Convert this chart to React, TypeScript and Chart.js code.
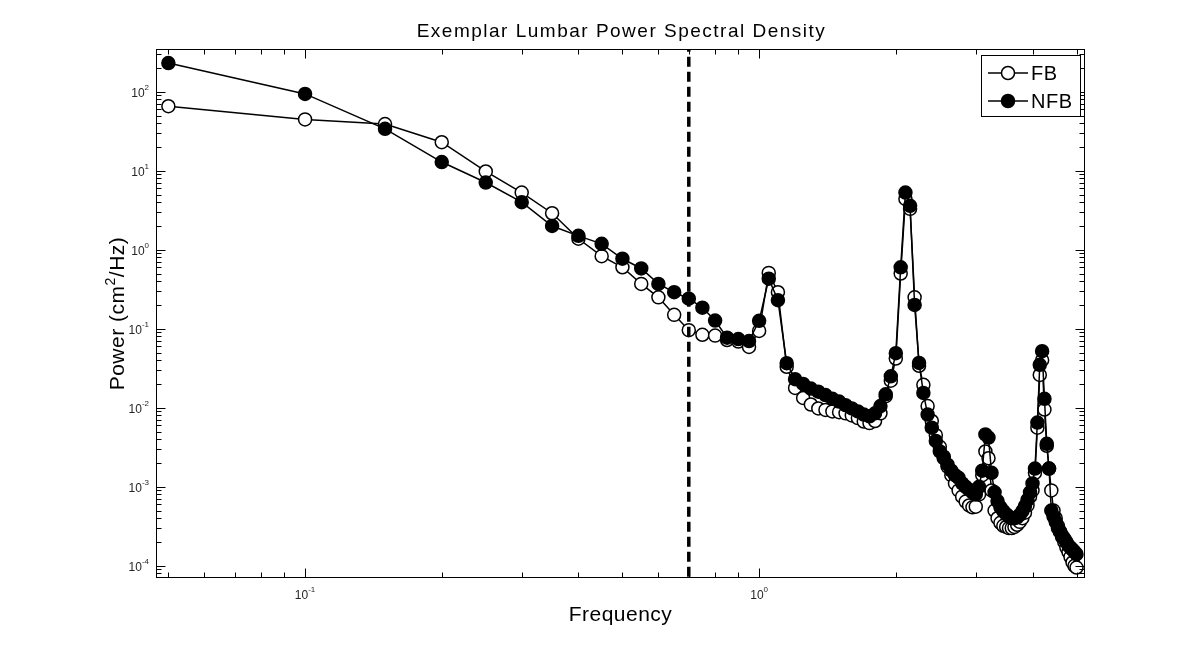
import { useEffect, useRef } from "react";
import { Chart, registerables } from "chart.js";

Chart.register(...registerables);

// ---------------- data ----------------
const FREQUENCY = [
  0.05, 0.1, 0.15, 0.2, 0.25, 0.3, 0.35, 0.4, 0.45, 0.5,
  0.55, 0.6, 0.65, 0.7, 0.75, 0.8, 0.85, 0.9, 0.95, 1.0,
  1.05, 1.1, 1.15, 1.2, 1.25, 1.3, 1.35, 1.4, 1.45, 1.5,
  1.55, 1.6, 1.65, 1.7, 1.75, 1.8, 1.85, 1.9, 1.95, 2.0,
  2.05, 2.1, 2.15, 2.2, 2.25, 2.3, 2.35, 2.4, 2.45, 2.5,
  2.55, 2.6, 2.65, 2.7, 2.75, 2.8, 2.85, 2.9, 2.95, 3.0,
  3.05, 3.1, 3.15, 3.2, 3.25, 3.3, 3.35, 3.4, 3.45, 3.5,
  3.55, 3.6, 3.65, 3.7, 3.75, 3.8, 3.85, 3.9, 3.95, 4.0,
  4.05, 4.1, 4.15, 4.2, 4.25, 4.3, 4.35, 4.4, 4.45, 4.5,
  4.55, 4.6, 4.65, 4.7, 4.75, 4.8, 4.85, 4.9, 4.95, 5.0,
];

const FB_POWER = [
  65.7, 44.7, 39, 23, 9.8, 5.3, 2.9, 1.38, 0.83, 0.6,
  0.37, 0.25, 0.15, 0.096, 0.084, 0.082, 0.072, 0.069, 0.059, 0.094,
  0.51, 0.29, 0.033, 0.0178, 0.0133, 0.011, 0.0098, 0.0094, 0.009, 0.0088,
  0.0085, 0.008, 0.0074, 0.0067, 0.0064, 0.0068, 0.0085, 0.014, 0.022, 0.042,
  0.5, 4.4, 3.3, 0.25, 0.034, 0.0195, 0.0105, 0.0068, 0.0045, 0.0032,
  0.0024, 0.0018, 0.0014, 0.0011, 0.0009, 0.00075, 0.00065, 0.00058, 0.00055, 0.00056,
  0.0008, 0.0014, 0.0028, 0.0023, 0.0009, 0.0005, 0.0004, 0.00035, 0.00032, 0.00031,
  0.0003, 0.0003, 0.00031, 0.00033, 0.00036, 0.0004, 0.00047, 0.00058, 0.00075, 0.0009,
  0.0015, 0.0056, 0.026, 0.04, 0.0095, 0.0033, 0.0017, 0.0009, 0.0005, 0.0004,
  0.00032, 0.00027, 0.00023, 0.0002, 0.00017, 0.00015, 0.00013, 0.00011, 0.0001, 0.000095,
];

const NFB_POWER = [
  231, 94, 34, 12.9, 7.1, 4.0, 2.0, 1.5, 1.19, 0.77,
  0.58, 0.37, 0.29, 0.24, 0.185, 0.127, 0.077, 0.074, 0.07, 0.126,
  0.43, 0.23, 0.0367, 0.023, 0.02, 0.0175, 0.016, 0.0145, 0.013, 0.012,
  0.0108, 0.0098, 0.009, 0.0082, 0.0078, 0.0085, 0.0105, 0.0148, 0.025, 0.049,
  0.6, 5.3, 3.6, 0.2, 0.037, 0.0154, 0.0082, 0.0056, 0.0038, 0.0028,
  0.0023, 0.0019, 0.0016, 0.0014, 0.0013, 0.0011, 0.001, 0.00092, 0.00085, 0.0008,
  0.001, 0.0016, 0.0046, 0.0042, 0.0015, 0.00085, 0.00066, 0.00055, 0.00049, 0.00045,
  0.00042, 0.0004, 0.0004, 0.00041, 0.00044, 0.00049, 0.00057, 0.00068, 0.00085, 0.0011,
  0.0017, 0.0065, 0.035, 0.052, 0.013, 0.0035, 0.0017, 0.0005, 0.00042, 0.00036,
  0.0003, 0.00027, 0.00024, 0.00022, 0.0002, 0.00018, 0.00017, 0.00016, 0.00015, 0.00014,
];

const CUTOFF_FREQUENCY = 0.7;

const X_MIN = 0.04696;
const X_MAX = 5.22;
const Y_MIN = 7.27e-5;
const Y_MAX = 348;

const X_TICK_EXPONENTS = [-1, 0];
const Y_TICK_EXPONENTS = [-4, -3, -2, -1, 0, 1, 2];

const TITLE = "Exemplar Lumbar Power Spectral Density";
const X_TITLE = "Frequency";
const Y_TITLE_PARTS = ["Power (cm", "2", "/Hz)"];
const LEGEND_LABELS = ["FB", "NFB"];

const FONT = '"Liberation Sans", Arial, Helvetica, sans-serif';

// ---------------- decorations (MATLAB-like axes) ----------------
function expText(e: number) {
  return e < 0 ? "-" + Math.abs(e) : String(e);
}

const matlabAxes = {
  id: "matlabAxes",
  afterDraw(chart: any) {
    const { ctx, chartArea: a, scales } = chart;
    const xs = scales.x;
    const ys = scales.y;
    const L = Math.round(a.left) + 0.5;
    const R = Math.round(a.right) - 0.5;
    const T = Math.round(a.top) + 0.5;
    const B = Math.round(a.bottom) - 0.5;
    ctx.save();
    ctx.strokeStyle = "#000";
    ctx.lineWidth = 1;

    // ticks
    ctx.beginPath();
    for (let n = -2; n <= 0; n++) {
      for (let k = 1; k <= 9; k++) {
        const v = k * Math.pow(10, n);
        if (v < X_MIN || v > X_MAX) continue;
        const px = Math.round(xs.getPixelForValue(v)) + 0.5;
        const len = k === 1 ? 9 : 5;
        ctx.moveTo(px, B);
        ctx.lineTo(px, B - len);
        ctx.moveTo(px, T);
        ctx.lineTo(px, T + len);
      }
    }
    for (let n = -5; n <= 2; n++) {
      for (let k = 1; k <= 9; k++) {
        const v = k * Math.pow(10, n);
        if (v < Y_MIN || v > Y_MAX) continue;
        const py = Math.round(ys.getPixelForValue(v)) + 0.5;
        const len = k === 1 ? 9 : 5;
        ctx.moveTo(L, py);
        ctx.lineTo(L + len, py);
        ctx.moveTo(R, py);
        ctx.lineTo(R - len, py);
      }
    }
    ctx.stroke();

    // box
    ctx.strokeRect(L, T, R - L, B - T);

    // tick labels
    ctx.fillStyle = "#262626";
    const baseFont = "12px " + FONT;
    const supFont = "8px " + FONT;
    ctx.textBaseline = "alphabetic";
    ctx.textAlign = "left";
    for (const e of Y_TICK_EXPONENTS) {
      const py = ys.getPixelForValue(Math.pow(10, e));
      ctx.font = supFont;
      const sup = expText(e);
      const sw = ctx.measureText(sup).width;
      ctx.font = baseFont;
      const bw = ctx.measureText("10").width;
      const right = 149;
      ctx.fillText("10", right - sw - bw, py + 5);
      ctx.font = supFont;
      ctx.fillText(sup, right - sw, py - 2);
    }
    for (const e of X_TICK_EXPONENTS) {
      const px = xs.getPixelForValue(Math.pow(10, e));
      ctx.font = supFont;
      const sup = expText(e);
      const sw = ctx.measureText(sup).width;
      ctx.font = baseFont;
      const bw = ctx.measureText("10").width;
      const start = px - (bw + sw) / 2;
      ctx.fillText("10", start, 599);
      ctx.font = supFont;
      ctx.fillText(sup, start + bw, 592);
    }

    // titles
    ctx.fillStyle = "#000";
    ctx.textAlign = "center";
    const cx = (a.left + a.right) / 2;
    ctx.font = "19px " + FONT;
    (ctx as any).letterSpacing = "1.5px";
    ctx.fillText(TITLE, cx + 1, 37);
    ctx.font = "21px " + FONT;
    (ctx as any).letterSpacing = "0.5px";
    ctx.fillText(X_TITLE, cx, 621);

    // y title (rotated, with superscript)
    ctx.save();
    ctx.translate(124, (a.top + a.bottom) / 2);
    ctx.rotate(-Math.PI / 2);
    ctx.textAlign = "left";
    ctx.font = "21px " + FONT;
    const w0 = ctx.measureText(Y_TITLE_PARTS[0]).width;
    const w2 = ctx.measureText(Y_TITLE_PARTS[2]).width;
    ctx.font = "14px " + FONT;
    const w1 = ctx.measureText(Y_TITLE_PARTS[1]).width;
    const total = w0 + w1 + w2;
    let sx = -total / 2;
    ctx.font = "21px " + FONT;
    ctx.fillText(Y_TITLE_PARTS[0], sx, 0);
    sx += w0;
    ctx.font = "14px " + FONT;
    ctx.fillText(Y_TITLE_PARTS[1], sx, -9);
    sx += w1;
    ctx.font = "21px " + FONT;
    ctx.fillText(Y_TITLE_PARTS[2], sx, 0);
    ctx.restore();

    // legend
    (ctx as any).letterSpacing = "0px";
    const lx = 981.5, ly = 55.5, lw = 99, lh = 61;
    ctx.fillStyle = "#fff";
    ctx.fillRect(lx, ly, lw, lh);
    ctx.strokeStyle = "#000";
    ctx.lineWidth = 1;
    ctx.strokeRect(lx, ly, lw, lh);
    const rows = [73, 101];
    LEGEND_LABELS.forEach((label, i) => {
      const ry = rows[i];
      ctx.beginPath();
      ctx.lineWidth = 1.5;
      ctx.moveTo(988, ry);
      ctx.lineTo(1028, ry);
      ctx.stroke();
      ctx.beginPath();
      ctx.arc(1008, ry, 6.5, 0, Math.PI * 2);
      ctx.fillStyle = i === 0 ? "#fff" : "#000";
      ctx.fill();
      ctx.stroke();
      ctx.fillStyle = "#000";
      ctx.font = "20px " + FONT;
      ctx.textAlign = "left";
      (ctx as any).letterSpacing = "0.5px";
      ctx.fillText(label, 1031, ry + 7);
      (ctx as any).letterSpacing = "0px";
    });

    ctx.restore();
  },
};

export default function App() {
  const ref = useRef<HTMLCanvasElement | null>(null);

  useEffect(() => {
    if (!ref.current) return;
    const fb = FREQUENCY.map((f, i) => ({ x: f, y: FB_POWER[i] }));
    const nfb = FREQUENCY.map((f, i) => ({ x: f, y: NFB_POWER[i] }));
    const chart = new Chart(ref.current, {
      type: "line",
      data: {
        datasets: [
          {
            label: "cutoff",
            data: [
              { x: CUTOFF_FREQUENCY, y: Y_MIN },
              { x: CUTOFF_FREQUENCY, y: Y_MAX },
            ],
            borderColor: "#000",
            borderWidth: 3.5,
            borderDash: [10, 5],
            pointRadius: 0,
            order: 0,
          },
          {
            label: LEGEND_LABELS[1],
            data: nfb,
            borderColor: "#000",
            borderWidth: 1.5,
            pointRadius: 6.5,
            pointBorderWidth: 1.5,
            pointBackgroundColor: "#000",
            pointBorderColor: "#000",
            tension: 0,
            order: 1,
          },
          {
            label: LEGEND_LABELS[0],
            data: fb,
            borderColor: "#000",
            borderWidth: 1.5,
            pointRadius: 6.5,
            pointBorderWidth: 1.5,
            pointBackgroundColor: "#fff",
            pointBorderColor: "#000",
            tension: 0,
            order: 2,
          },
        ],
      },
      options: {
        responsive: false,
        animation: false,
        devicePixelRatio: 1,
        events: [],
        layout: { padding: { left: 156, top: 49, right: 115, bottom: 72 } },
        plugins: {
          legend: { display: false },
          title: { display: false },
          tooltip: { enabled: false },
        },
        scales: {
          x: { type: "logarithmic", min: X_MIN, max: X_MAX, display: false },
          y: { type: "logarithmic", min: Y_MIN, max: Y_MAX, display: false },
        },
      },
      plugins: [matlabAxes],
    });
    return () => chart.destroy();
  }, []);

  return (
    <canvas
      ref={ref}
      width={1200}
      height={650}
      style={{ position: "absolute", left: 0, top: 0, display: "block", background: "#fff" }}
    />
  );
}
